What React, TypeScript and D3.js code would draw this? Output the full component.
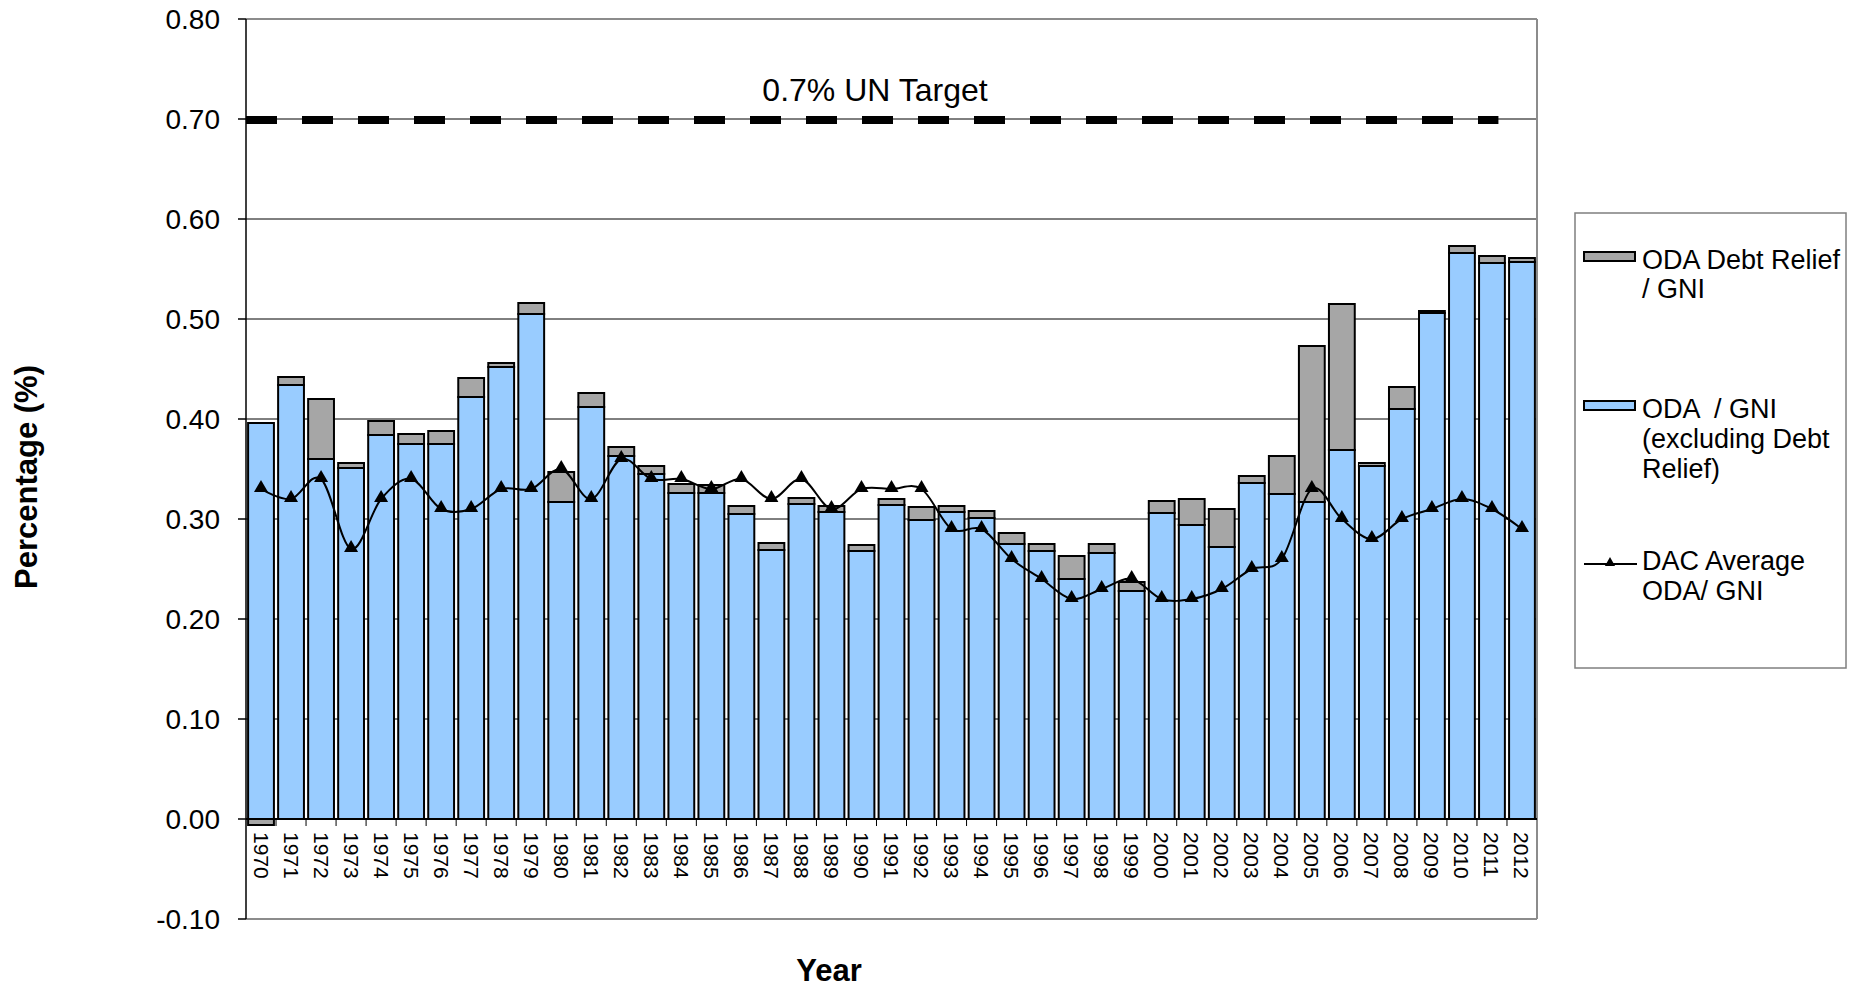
import React, { useEffect } from "react";
import * as d3 from "d3";

// ODA / GNI chart, 1970-2012
const years = [
  "1970", "1971", "1972", "1973", "1974", "1975", "1976", "1977", "1978", "1979",
  "1980", "1981", "1982", "1983", "1984", "1985", "1986", "1987", "1988", "1989",
  "1990", "1991", "1992", "1993", "1994", "1995", "1996", "1997", "1998", "1999",
  "2000", "2001", "2002", "2003", "2004", "2005", "2006", "2007", "2008", "2009",
  "2010", "2011", "2012",
];

// ODA / GNI excluding debt relief (blue)
const odaExDebt = [
  0.396, 0.434, 0.36, 0.351, 0.384, 0.375, 0.375, 0.422, 0.452, 0.505,
  0.317, 0.412, 0.363, 0.345, 0.326, 0.326, 0.305, 0.269, 0.315, 0.307,
  0.268, 0.314, 0.299, 0.307, 0.301, 0.275, 0.268, 0.24, 0.266, 0.228,
  0.306, 0.294, 0.272, 0.336, 0.325, 0.317, 0.369, 0.353, 0.41, 0.506,
  0.566, 0.556, 0.557,
];

// ODA debt relief / GNI (grey)
const debtRelief = [
  -0.006, 0.008, 0.06, 0.005, 0.014, 0.01, 0.013, 0.019, 0.004, 0.011,
  0.03, 0.014, 0.009, 0.008, 0.009, 0.008, 0.008, 0.007, 0.006, 0.006,
  0.006, 0.006, 0.013, 0.006, 0.007, 0.011, 0.007, 0.023, 0.009, 0.009,
  0.012, 0.026, 0.038, 0.007, 0.038, 0.156, 0.146, 0.003, 0.022, 0.002,
  0.007, 0.007, 0.004,
];

// DAC average ODA / GNI (line)
const dacAverage = [
  0.33, 0.32, 0.34, 0.27, 0.32, 0.34, 0.31, 0.31, 0.33, 0.33,
  0.35, 0.32, 0.36, 0.34, 0.34, 0.33, 0.34, 0.32, 0.34, 0.31,
  0.33, 0.33, 0.33, 0.29, 0.29, 0.26, 0.24, 0.22, 0.23, 0.24,
  0.22, 0.22, 0.23, 0.25, 0.26, 0.33, 0.3, 0.28, 0.3, 0.31,
  0.32, 0.31, 0.29,
];

const yTicks = [-0.1, 0, 0.1, 0.2, 0.3, 0.4, 0.5, 0.6, 0.7, 0.8];
const unTarget = 0.7;

const FONT = "'Liberation Sans', Arial, sans-serif";
const BLUE = "#99CCFF";
const GREY = "#A6A6A6";

const W = 1854;
const H = 990;
const left = 246;
const right = 1537;
const top = 19;
const bottom = 919;

export default function App() {
  useEffect(() => {
    document.body.style.margin = "0";
  }, []);

  const x = d3.scaleBand<string>().domain(years).range([left, right]).paddingInner(0.14).paddingOuter(0.07);
  const y = d3.scaleLinear().domain([-0.1, 0.8]).range([bottom, top]);
  const bw = x.bandwidth();
  const gap = (x.step() - bw) / 2;
  const cx = (yr: string) => (x(yr) as number) + bw / 2;

  const line = d3
    .line<number>()
    .x((_, i) => cx(years[i]))
    .y((d) => y(d))
    .curve(d3.curveCardinal.tension(0));

  const tri = d3.symbol().type(d3.symbolTriangle).size(85)();
  const triSmall = d3.symbol().type(d3.symbolTriangle).size(45)();

  // boundaries between categories, for the tick marks under the zero line
  const boundaries = years.slice(1).map((yr) => (x(yr) as number) - gap);
  const targetEnd = (x("2011") as number) + bw * 0.75;

  const legendX = 1584;
  const legendTextX = 1642;

  return (
    <svg width={W} height={H} style={{ display: "block", background: "#fff" }} fontFamily={FONT}>
      <rect x={0} y={0} width={W} height={H} fill="#fff" />

      {/* gridlines */}
      {yTicks
        .filter((t) => t > 0.05 && t < 0.75)
        .map((t) => (
          <line key={"g" + t} x1={left} x2={right} y1={y(t)} y2={y(t)} stroke="#000" strokeWidth={1} />
        ))}

      {/* plot frame */}
      <line x1={left} x2={right} y1={y(0.8)} y2={y(0.8)} stroke="#8c8c8c" strokeWidth={2} />
      <line x1={left} x2={right} y1={y(-0.1)} y2={y(-0.1)} stroke="#8c8c8c" strokeWidth={2} />
      <line x1={right} x2={right} y1={top} y2={bottom} stroke="#8c8c8c" strokeWidth={2} />

      {/* bars */}
      {years.map((yr, i) => {
        const b = odaExDebt[i];
        const r = debtRelief[i];
        const x0 = x(yr) as number;
        const g0 = r >= 0 ? b : 0;
        const g1 = r >= 0 ? b + r : r;
        return (
          <g key={yr}>
            <rect x={x0} y={y(b)} width={bw} height={y(0) - y(b)} fill={BLUE} stroke="#000" strokeWidth={2} />
            <rect
              x={x0}
              y={y(Math.max(g0, g1))}
              width={bw}
              height={Math.abs(y(g0) - y(g1))}
              fill={GREY}
              stroke="#000"
              strokeWidth={2}
            />
          </g>
        );
      })}

      {/* axes */}
      <line x1={left} x2={left} y1={top} y2={bottom} stroke="#000" strokeWidth={1.5} />
      {yTicks.map((t) => (
        <g key={"t" + t}>
          <line x1={left - 8} x2={left} y1={y(t)} y2={y(t)} stroke="#000" strokeWidth={1.5} />
          <text x={220} y={y(t) + 10} textAnchor="end" fontSize={28} fill="#000">
            {t.toFixed(2)}
          </text>
        </g>
      ))}
      <line x1={left} x2={right} y1={y(0)} y2={y(0)} stroke="#000" strokeWidth={2} />
      {boundaries.map((bx, i) => (
        <line key={"xt" + i} x1={bx} x2={bx} y1={y(0)} y2={y(0) + 7} stroke="#000" strokeWidth={1} />
      ))}
      {years.map((yr) => (
        <text
          key={"xl" + yr}
          transform={`translate(${cx(yr) - 7.5},${y(0) + 13}) rotate(90)`}
          fontSize={21}
          fill="#000"
        >
          {yr}
        </text>
      ))}

      {/* DAC average line */}
      <path d={line(dacAverage) || ""} fill="none" stroke="#000" strokeWidth={2} />
      {dacAverage.map((v, i) => (
        <path key={"m" + i} d={tri || ""} transform={`translate(${cx(years[i])},${y(v) - 1})`} fill="#000" />
      ))}

      {/* 0.7% UN target */}
      <line
        x1={left}
        x2={targetEnd}
        y1={y(unTarget) + 1}
        y2={y(unTarget) + 1}
        stroke="#000"
        strokeWidth={8}
        strokeDasharray="31 25"
      />
      <text x={875} y={101} textAnchor="middle" fontSize={32} fill="#000">
        0.7% UN Target
      </text>

      {/* axis titles */}
      <text x={829} y={981} textAnchor="middle" fontSize={31} fontWeight="bold" fill="#000">
        Year
      </text>
      <text
        transform={`translate(37,477) rotate(-90)`}
        textAnchor="middle"
        fontSize={31}
        fontWeight="bold"
        fill="#000"
      >
        Percentage (%)
      </text>

      {/* legend */}
      <rect x={1575} y={213} width={271} height={455} fill="#fff" stroke="#7f7f7f" strokeWidth={1.5} />
      <rect x={legendX} y={252} width={51} height={9} fill={GREY} stroke="#000" strokeWidth={2} />
      <text x={legendTextX} fontSize={27} fill="#000">
        <tspan x={legendTextX} y={269}>ODA Debt Relief</tspan>
        <tspan x={legendTextX} y={298}>/ GNI</tspan>
      </text>
      <rect x={legendX} y={401} width={51} height={9} fill={BLUE} stroke="#000" strokeWidth={2} />
      <text x={legendTextX} fontSize={27} fill="#000" style={{ whiteSpace: "pre" }}>
        <tspan x={legendTextX} y={418}>ODA  / GNI</tspan>
        <tspan x={legendTextX} y={448}>(excluding Debt</tspan>
        <tspan x={legendTextX} y={478}>Relief)</tspan>
      </text>
      <line x1={legendX} x2={legendX + 53} y1={564} y2={564} stroke="#000" strokeWidth={2} />
      <path d={triSmall || ""} transform={`translate(${legendX + 26},${563})`} fill="#000" />
      <text x={legendTextX} fontSize={27} fill="#000">
        <tspan x={legendTextX} y={570}>DAC Average</tspan>
        <tspan x={legendTextX} y={600}>ODA/ GNI</tspan>
      </text>
    </svg>
  );
}
